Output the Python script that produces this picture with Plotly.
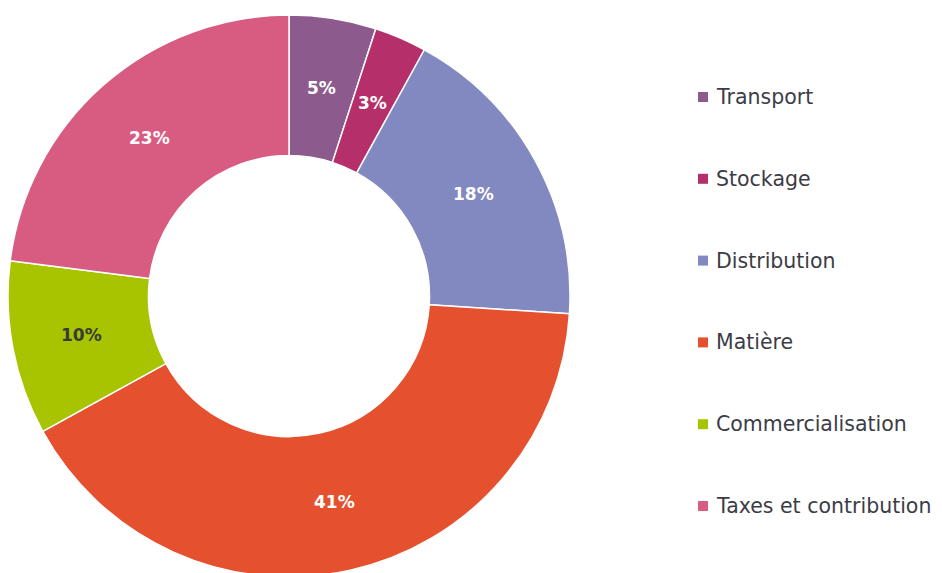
import math
import plotly.graph_objects as go

categories = ["Transport", "Stockage", "Distribution", "Matière", "Commercialisation", "Taxes et contribution"]
values = [5, 3, 18, 41, 10, 23]
colors = ["#8C5A8C", "#B5306A", "#8289C0", "#E5502E", "#A8C400", "#D85C82"]
text_colors = ["#FFFFFF", "#FFFFFF", "#FFFFFF", "#FFFFFF", "#3A3A3A", "#FFFFFF"]

W, H = 942, 573
HOLE = 0.5
# pie box in figure pixels (page has an 8px body offset)
px0, px1 = 0, 562
py_top, py_bot = 7, 569

fig = go.Figure()
fig.add_trace(go.Pie(
    labels=categories, values=values, hole=HOLE, sort=False,
    direction="clockwise", rotation=0,
    marker=dict(colors=colors, line=dict(color="white", width=1.5)),
    textinfo="none",
    domain=dict(x=[px0 / W, px1 / W], y=[1 - py_bot / H, 1 - py_top / H]),
    showlegend=False, hoverinfo="label+value",
))

# slice labels at the middle of the ring, derived from the values
cx = (px0 + px1) / 2
cy = (py_top + py_bot) / 2
R = (px1 - px0) / 2
rmid = R * (1 + HOLE) / 2
total = sum(values)
annotations = []
cum = 0
for v, tc in zip(values, text_colors):
    th = 2 * math.pi * (cum + v / 2) / total
    cum += v
    x = cx + rmid * math.sin(th)
    y = cy - rmid * math.cos(th)
    annotations.append(dict(text=f"{v}%", xref="paper", yref="paper",
                            x=x / W, y=1 - y / H, xanchor="center", yanchor="middle",
                            showarrow=False,
                            font=dict(family="DejaVu Sans", size=17, color=tc, weight="bold")))

legend_x_sq = 695
legend_x_txt = 706
legend_y0 = 89
legend_dy = 81.8
shapes = []
for i, (cat, col) in enumerate(zip(categories, colors)):
    y = legend_y0 + i * legend_dy
    shapes.append(dict(type="rect", xref="paper", yref="paper",
                       x0=(legend_x_sq - 5) / W, x1=(legend_x_sq + 5) / W,
                       y0=1 - (y + 5) / H, y1=1 - (y - 5) / H,
                       fillcolor=col, line=dict(width=0)))
    annotations.append(dict(text=cat, xref="paper", yref="paper",
                            x=legend_x_txt / W, y=1 - y / H,
                            xanchor="left", yanchor="middle", showarrow=False,
                            font=dict(family="DejaVu Sans", size=20.5, color="#3C3C46")))

fig.update_layout(
    width=W, height=H, margin=dict(l=0, r=0, t=0, b=0),
    paper_bgcolor="white", plot_bgcolor="white",
    shapes=shapes, annotations=annotations,
)
fig.write_html("out.html")
